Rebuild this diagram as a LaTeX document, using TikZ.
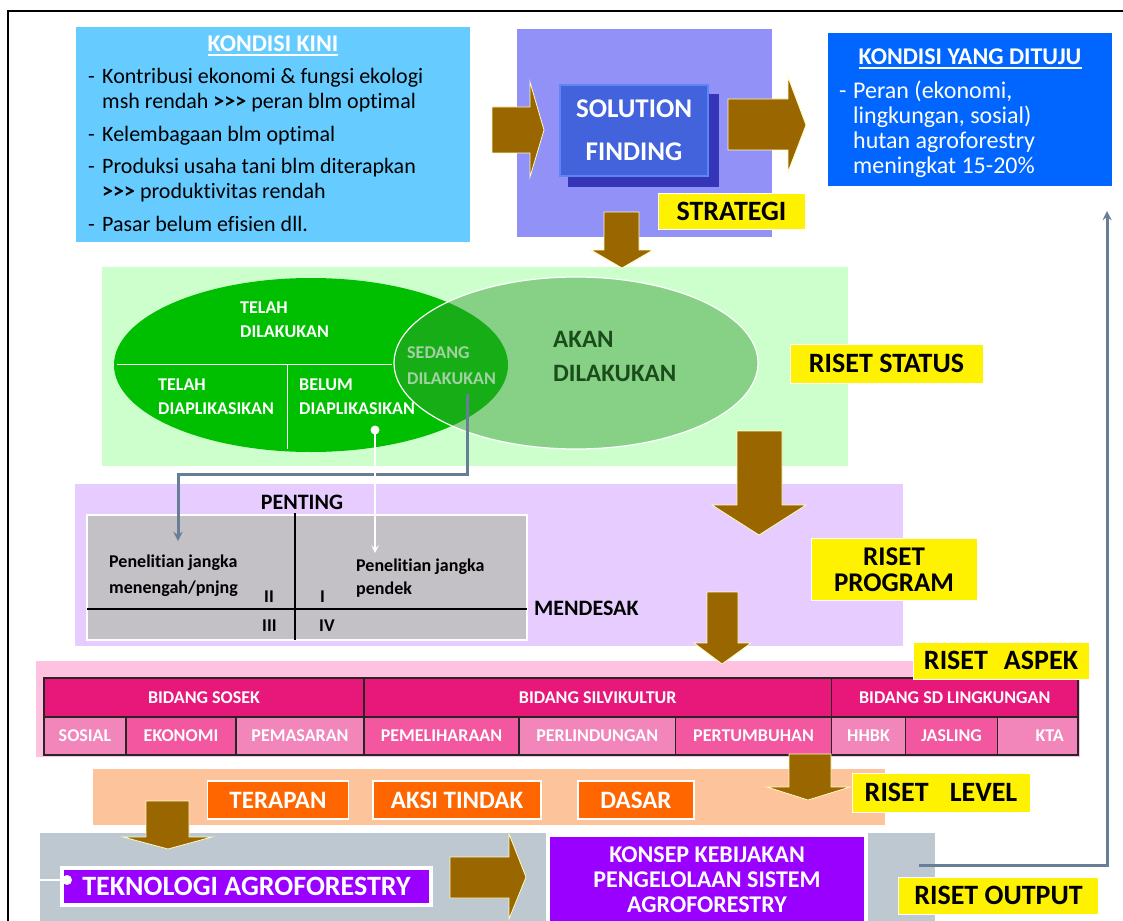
\documentclass[tikz,border=0pt]{standalone}
\usepackage{fontspec}
\setmainfont{Carlito}[Ligatures=NoCommon]
\usepackage{xcolor}
\usepackage{tikz}
\usetikzlibrary{positioning}

\definecolor{kiniblue}{HTML}{66CCFF}
\definecolor{targetblue}{HTML}{0066FF}
\definecolor{solbg}{HTML}{9191F7}
\definecolor{solshade}{HTML}{3535B8}
\definecolor{solfront}{HTML}{4263DC}
\definecolor{solrim}{HTML}{5C86F0}
\definecolor{arrowbrown}{HTML}{996600}
\definecolor{statusbg}{HTML}{CCFFCC}
\definecolor{donegreen}{HTML}{00BF00}
\definecolor{plangreen}{HTML}{339933}
\definecolor{akantext}{HTML}{1B4D1B}
\definecolor{programbg}{HTML}{E6CCFF}
\definecolor{gridgrey}{HTML}{C3C0C6}
\definecolor{aspekbg}{HTML}{FFC1E0}
\definecolor{bidangpink}{HTML}{E8177A}
\definecolor{subpinklight}{HTML}{F285BA}
\definecolor{subpinkdark}{HTML}{F2579F}
\definecolor{levelbg}{HTML}{FDC49C}
\definecolor{levelorange}{HTML}{FF6600}
\definecolor{outputbg}{HTML}{BEC8D0}
\definecolor{konsepviolet}{HTML}{9900FF}
\definecolor{slateline}{HTML}{687E96}

\newcommand{\fsz}[2]{\fontsize{#1}{#2}\selectfont}

\begin{document}
\begin{tikzpicture}[x=1pt, y=-1pt, >=stealth,
    labelbox/.style={fill=yellow, draw=white, line width=0.8, inner sep=0pt, align=center, font=\bfseries\fsz{28}{24}},
    brownarrow/.style={fill=arrowbrown, draw=white!75!yellow, line width=0.8},
    aspekcell/.style={draw=black!85, line width=1.3, inner sep=0pt, text=white, font=\bfseries\fsz{18}{18}},
    levelbox/.style={fill=levelorange, draw=white, line width=1.2, inner sep=0pt, minimum height=38pt, text=white, font=\bfseries\fsz{25}{25}},
    bodytext/.style={anchor=base west, inner sep=0pt, font=\fsz{22}{25}},
    ovaltext/.style={anchor=base west, inner sep=0pt, text=white, font=\bfseries\fsz{18}{18}},
    gridtext/.style={anchor=base west, inner sep=0pt, font=\bfseries\fsz{18}{18}},
    slate/.style={draw=slateline, line width=3}]

    \useasboundingbox (0,0) rectangle (1123,920);
    \clip (0,0) rectangle (1123,920);
    \draw[line width=1.2] (8,930) -- (8,11) -- (1130,11);

    % kondisi kini
    \node[fill=kiniblue, minimum width=394pt, minimum height=215pt, inner sep=0pt] (kini) at (273,134.5) {};
    \node[anchor=base, inner sep=0pt, text=white, font=\bfseries\fsz{24}{24}] (kinititle) at (273,52) {KONDISI KINI};
    \draw[white, line width=1.6] ([yshift=-2.5pt]kinititle.south west) -- ([yshift=-2.5pt]kinititle.south east);
    \node[bodytext] (kini1) at (88,84) {\makebox[14pt][l]{-}Kontribusi ekonomi \& fungsi ekologi};
    \node[bodytext] (kini1b) at (102,109) {msh rendah \textbf{>{}>{}>} peran blm optimal};
    \node[bodytext] (kini2) at (88,142) {\makebox[14pt][l]{-}Kelembagaan blm optimal};
    \node[bodytext] (kini3) at (88,173) {\makebox[14pt][l]{-}Produksi usaha tani blm diterapkan};
    \node[bodytext] (kini3b) at (102,198) {\textbf{>{}>{}>} produktivitas rendah};
    \node[bodytext] (kini4) at (88,231) {\makebox[14pt][l]{-}Pasar belum efisien dll.};

    % solution finding
    \fill[solbg] (517,29) rectangle (772,237);
    \node[fill=solshade, minimum width=151pt, minimum height=93pt, inner sep=0pt] (solshadow) at (643.5,140.5) {};
    \node[fill=solfront, draw=solrim, line width=2.5, minimum width=148pt, minimum height=91pt, inner sep=0pt,
        align=center, text=white, font=\bfseries\fsz{27}{43}] (solution) at (634,130.5) {SOLUTION\\FINDING};
    \node[labelbox, minimum width=147pt, minimum height=36pt] (strategi) at (731.5,211) {STRATEGI};

    % kondisi yang dituju
    \node[fill=targetblue, minimum width=284pt, minimum height=153pt, inner sep=0pt] (target) at (970,109.5) {};
    \node[anchor=base, inner sep=0pt, text=white, font=\bfseries\fsz{24}{24}] (targettitle) at (970,65) {KONDISI YANG DITUJU};
    \draw[white, line width=1.6] ([yshift=-2.5pt]targettitle.south west) -- ([yshift=-2.5pt]targettitle.south east);
    \node[bodytext, text=white, font=\fsz{24}{25}] (target1) at (839,99) {\makebox[14pt][l]{-}Peran (ekonomi,};
    \node[bodytext, text=white, font=\fsz{24}{25}] (target2) at (853,124) {lingkungan, sosial)};
    \node[bodytext, text=white, font=\fsz{24}{25}] (target3) at (853,149) {hutan agroforestry};
    \node[bodytext, text=white, font=\fsz{24}{25}] (target4) at (853,174) {meningkat 15-20\%};

    % riset status
    \fill[statusbg] (102,267) rectangle (848,466);
    \fill[donegreen] (311,365) ellipse [x radius=197pt, y radius=87pt];
    \draw[white, line width=1] (117,364) -- (392,364) (287,364) -- (287,449);
    \node[ovaltext] (telah) at (240,313) {TELAH};
    \node[ovaltext] (telahb) at (240,337) {DILAKUKAN};
    \node[ovaltext] (applied) at (158,390) {TELAH};
    \node[ovaltext] (appliedb) at (158,414) {DIAPLIKASIKAN};
    \node[ovaltext] (belum) at (299,390) {BELUM};
    \node[ovaltext] (belumb) at (299,414) {DIAPLIKASIKAN};
    \node[ovaltext] (sedang) at (407,358) {SEDANG};
    \node[ovaltext] (sedangb) at (407,384) {DILAKUKAN};
    \coordinate (belumdot) at (375,430);
    \coordinate (sedangtap) at (467,394);
    \filldraw[fill=plangreen, fill opacity=0.45, draw=white, line width=1.2] (576,363) ellipse [x radius=182pt, y radius=86pt];
    \node[anchor=base west, inner sep=0pt, text=akantext, font=\bfseries\fsz{25}{25}] (akan) at (553,347) {AKAN};
    \node[anchor=base west, inner sep=0pt, text=akantext, font=\bfseries\fsz{25}{25}] (akanb) at (553,381) {DILAKUKAN};
    \node[labelbox, minimum width=193pt, minimum height=39pt] (status) at (886.5,363.5) {RISET STATUS};

    % riset program
    \fill[programbg] (75,484) rectangle (903,646);
    \node[fill=gridgrey, draw=white, line width=1.5, minimum width=440pt, minimum height=125pt, inner sep=0pt] (grid) at (307,577.5) {};
    \draw[line width=1.2] (295,513) -- (295,640) (87,609) -- (527,609);
    \node[anchor=base, inner sep=0pt, font=\bfseries\fsz{22}{22}] (penting) at (302,509) {PENTING};
    \node[anchor=base west, inner sep=0pt, font=\bfseries\fsz{22}{22}] (mendesak) at (534,615) {MENDESAK};
    \node[gridtext] (longterm) at (109,567) {Penelitian jangka};
    \node[gridtext] (longtermb) at (109,593) {menengah/pnjng};
    \node[gridtext] (shortterm) at (356,571) {Penelitian jangka};
    \node[gridtext] (shorttermb) at (356,594) {pendek};
    \node[gridtext] (quadii) at (264,602) {II};
    \node[gridtext] (quadi) at (320,602) {I};
    \node[gridtext] (quadiii) at (262,631) {III};
    \node[gridtext] (quadiv) at (319,631) {IV};
    \coordinate (longtip) at (178,541);
    \coordinate (shorttip) at (375,553);
    \node[labelbox, minimum width=166pt, minimum height=62pt, font=\bfseries\fsz{27}{26}] (program) at (894,569.5) {RISET\\PROGRAM};

    % riset aspek
    \fill[aspekbg] (36,661) rectangle (1080,757);
    \node[aspekcell, fill=bidangpink, minimum width=320pt, minimum height=39pt] (sosek) at (204,697.5) {BIDANG SOSEK};
    \node[aspekcell, fill=bidangpink, minimum width=467.5pt, minimum height=39pt] (silvikultur) at (597.75,697.5) {BIDANG SILVIKULTUR};
    \node[aspekcell, fill=bidangpink, minimum width=246.5pt, minimum height=39pt] (sdlingkungan) at (954.75,697.5) {BIDANG SD LINGKUNGAN};
    \foreach \cx/\cw/\cfill/\cname/\ctext in {85/82/subpinklight/sosial/SOSIAL, 181/110/subpinkdark/ekonomi/EKONOMI,
        300/128/subpinklight/pemasaran/PEMASARAN, 441.5/155/subpinkdark/pemeliharaan/PEMELIHARAAN,
        597.25/156.5/subpinklight/perlindungan/PERLINDUNGAN, 753.5/156/subpinkdark/pertumbuhan/PERTUMBUHAN,
        868.5/74/subpinklight/hhbk/HHBK, 951.5/92/subpinkdark/jasling/JASLING}
        \node[aspekcell, fill=\cfill, minimum width=\cw pt, minimum height=38pt] (\cname) at (\cx,736) {\ctext};
    \node[aspekcell, fill=subpinklight, minimum width=80.5pt, minimum height=38pt, text width=52pt, align=right] (kta) at (1037.75,736) {KTA};
    \node[labelbox, minimum width=176pt, minimum height=37pt] (aspek) at (1001,660.5) {RISET\hspace{16pt}ASPEK};

    % riset level
    \fill[levelbg] (93,769) rectangle (885,825);
    \node[levelbox, minimum width=141pt] (terapan) at (278,800) {TERAPAN};
    \node[levelbox, minimum width=168pt] (aksi) at (457,800) {AKSI TINDAK};
    \node[levelbox, minimum width=116pt] (dasar) at (636,800) {DASAR};
    \node[labelbox, minimum width=178pt, minimum height=39pt] (level) at (941,792.5) {RISET\hspace{21pt}LEVEL};

    % riset output
    \fill[outputbg] (40,833) rectangle (935,925);
    \node[fill=konsepviolet, draw=white, line width=4, minimum width=318pt, minimum height=90pt, inner sep=0pt,
        align=center, text=white, font=\bfseries\fsz{24}{25}] (konsep) at (707,880) {KONSEP KEBIJAKAN\\PENGELOLAAN SISTEM\\AGROFORESTRY};
    \node[fill=konsepviolet, draw=white, line width=4, minimum width=369pt, minimum height=37pt, inner sep=0pt,
        text=white, font=\bfseries\fsz{28}{28}] (teknologi) at (246.5,886.5) {TEKNOLOGI AGROFORESTRY};
    \coordinate (tekdot) at (67,880);
    \draw[white, line width=2] (tekdot) -- ++(-28,0);
    \fill[white] (tekdot) circle (5pt);
    \node[labelbox, minimum width=200pt, minimum height=37pt] (output) at (998.5,895.5) {RISET OUTPUT};
    \coordinate (outtap) at (919,865);
    \coordinate (goalfoot) at (1107,211);

    % block arrows
    \draw[brownarrow] (492,107) -- (530,107) -- (530,82) -- (544,130) -- (530,177) -- (530,153) -- (492,153) -- cycle;
    \draw[brownarrow] (728,99) -- (788,99) -- (788,77) -- (806,125) -- (788,172) -- (788,150) -- (728,150) -- cycle;
    \draw[brownarrow] (604,212) -- (639,212) -- (639,250) -- (653,250) -- (622,268) -- (591,250) -- (604,250) -- cycle;
    \draw[brownarrow] (737,431) -- (782,431) -- (782,505) -- (806,505) -- (759,535) -- (712,505) -- (737,505) -- cycle;
    \draw[brownarrow] (707,592) -- (738,592) -- (738,643) -- (751,643) -- (722,664) -- (694,643) -- (707,643) -- cycle;
    \draw[brownarrow] (789,754) -- (831,754) -- (831,787) -- (850,787) -- (808,800) -- (767,787) -- (789,787) -- cycle;
    \draw[brownarrow] (146,801) -- (189,801) -- (189,837) -- (212,837) -- (168,849) -- (123,837) -- (146,837) -- cycle;
    \draw[brownarrow] (450,857) -- (509,857) -- (509,834) -- (526,877) -- (509,919) -- (509,898) -- (450,898) -- cycle;

    % connectors
    \draw[slate, ->] (sedangtap) -- ++(0,80) -| (longtip);
    \draw[white, line width=2.2, ->] (belumdot) -- (shorttip);
    \fill[white] (belumdot) circle (4.5pt);
    \draw[slate, ->] (outtap) -| (goalfoot);
\end{tikzpicture}
\end{document}
